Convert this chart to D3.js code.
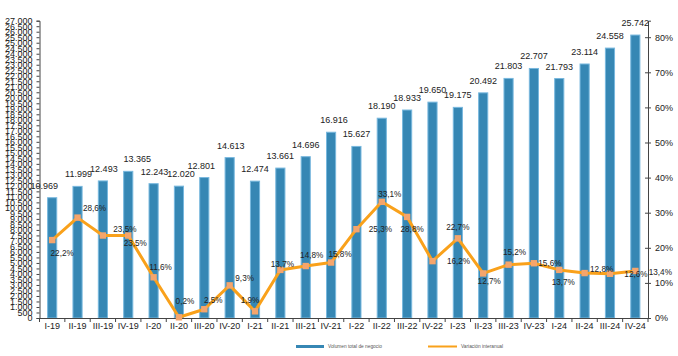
<!DOCTYPE html>
<html><head><meta charset="utf-8">
<script src="https://cdn.jsdelivr.net/npm/d3@7/dist/d3.min.js"></script>
<style>
html,body{margin:0;padding:0;background:#fff;}
svg{display:block;font-family:"Liberation Sans",Arial,sans-serif;}
</style></head>
<body>
<svg id="chart" width="678" height="356"></svg>
<script>
// ---- data ----
const categories = ["I-19","II-19","III-19","IV-19","I-20","II-20","III-20","IV-20","I-21","II-21","III-21","IV-21","I-22","II-22","III-22","IV-22","I-23","II-23","III-23","IV-23","I-24","II-24","III-24","IV-24"];
const volumen = [10969,11999,12493,13365,12243,12020,12801,14613,12474,13661,14696,16916,15627,18190,18933,19650,19175,20492,21803,22707,21793,23114,24558,25742];
const variacion = [22.2,28.6,23.5,23.5,11.6,0.2,2.5,9.3,1.9,13.7,14.8,15.8,25.3,33.1,28.8,16.2,22.7,12.7,15.2,15.6,13.7,12.8,12.6,13.4];
const leftTicks = d3.range(0, 27001, 500);
const rightTicks = [0,10,20,30,40,50,60,70,80];
const seriesNames = ["Volumen total de negocio","Variación interanual"];

// ---- label layout (offsets of data labels, px) ----
const barLabelDx = [-8,1,1,9,1,2,-3,1,0,0,0,3,0,0,0,0,0,0,0,0,0,0,0,0];
const pctLabelOff = [[10,13],[17,-9],[22,-6],[7,8],[7,-10],[6,-16],[9,-9],[15,-7],[-5,-11],[2,-6],[6,-11],[9,-8],[24,0],[8,-8],[5,12],[26,0],[0,-11],[6,8],[6,-13],[16,0],[4,12],[17,-4],[26,0],[25,1]];

(function(){
const svg = d3.select("#chart");
const pLeft = 39.5, pRight = 648, pTop = 20.7, pBottom = 318;
const blue = "#3687b4", orange = "#f9a11b", marker = "#f5a56c";
const fmt = d3.formatLocale({decimal:",", thousands:".", grouping:[3], currency:["",""]});
const fInt = fmt.format(",d");
const fPct = fmt.format(".1f");

const x = d3.scaleBand().domain(categories).range([pLeft, pRight]).paddingInner(0.6).paddingOuter(0.3);
const y = d3.scaleLinear().domain([0, 27000]).range([pBottom, pTop]);
const y2 = d3.scaleLinear().domain([0, 84.7]).range([pBottom, pTop]);
const cx = c => x(c) + x.bandwidth()/2;

// bars
svg.append("g").selectAll("rect").data(volumen).join("rect")
  .attr("x", (d,i) => x(categories[i]) + 0.5)
  .attr("y", d => y(d) + 0.5)
  .attr("width", x.bandwidth() - 1)
  .attr("height", d => pBottom - y(d) - 0.5)
  .attr("fill", blue).attr("stroke", "#78b8de").attr("stroke-width", 1);

// axes
const axisColor = "#444";
const gl = svg.append("g").attr("transform", `translate(${pLeft},0)`)
  .call(d3.axisLeft(y).tickValues(leftTicks).tickSize(3).tickPadding(4).tickFormat(d => fInt(d)));
const gr = svg.append("g").attr("transform", `translate(${pRight},0)`)
  .call(d3.axisRight(y2).tickValues(rightTicks).tickSize(3).tickPadding(4).tickFormat(d => d + "%"));
gr.selectAll(".tick line").attr("x1", -3);
const gx = svg.append("g").attr("transform", `translate(0,${pBottom})`)
  .call(d3.axisBottom(x).tickSize(0).tickPadding(5));
// category boundary ticks
svg.append("g").selectAll("line").data(d3.range(categories.length + 1)).join("line")
  .attr("x1", i => pLeft + i * x.step()).attr("x2", i => pLeft + i * x.step())
  .attr("y1", pBottom).attr("y2", pBottom + 4).attr("stroke", axisColor);
[gl, gr, gx].forEach(g => {
  g.select(".domain").attr("stroke", axisColor);
  g.selectAll(".tick line").attr("stroke", axisColor);
  g.selectAll(".tick text").attr("fill", "#222").attr("font-size", 9).attr("font-family", "Liberation Sans, Arial, sans-serif");
});
gx.selectAll(".tick text").attr("dy", "0.71em");

// bar labels
svg.append("g").selectAll("text").data(volumen).join("text")
  .attr("x", (d,i) => cx(categories[i]) + barLabelDx[i])
  .attr("y", d => y(d) - 8.5)
  .attr("text-anchor", "middle").attr("font-size", 9).attr("fill", "#222")
  .text(d => fInt(d));

// line
const line = d3.line().x((d,i) => cx(categories[i])).y(d => y2(d));
svg.append("path").datum(variacion).attr("d", line)
  .attr("fill", "none").attr("stroke", orange).attr("stroke-width", 3).attr("stroke-linejoin", "round");
svg.append("g").selectAll("rect").data(variacion).join("rect")
  .attr("x", (d,i) => cx(categories[i]) - 3.2).attr("y", d => y2(d) - 3.2)
  .attr("width", 6.4).attr("height", 6.4).attr("fill", marker);

// pct labels
svg.append("g").selectAll("text").data(variacion).join("text")
  .attr("x", (d,i) => cx(categories[i]) + pctLabelOff[i][0])
  .attr("y", (d,i) => y2(d) + pctLabelOff[i][1])
  .attr("dy", "0.35em")
  .attr("text-anchor", "middle").attr("font-size", 8.2).attr("fill", "#222")
  .text(d => fPct(d) + "%");

// legend
const lg = svg.append("g");
const legendItems = [{name: seriesNames[0], color: blue, x: 296, w: 28, h: 3}, {name: seriesNames[1], color: orange, x: 428, w: 29, h: 2}];
legendItems.forEach(it => {
  lg.append("rect").attr("x", it.x).attr("y", 346.5 - it.h/2).attr("width", it.w).attr("height", it.h).attr("fill", it.color);
  lg.append("text").attr("x", it.x + it.w + 4).attr("y", 346.5).attr("dy", "0.35em")
    .attr("font-size", 4.8).attr("fill", "#555").text(it.name);
});
})();
</script>
</body></html>
